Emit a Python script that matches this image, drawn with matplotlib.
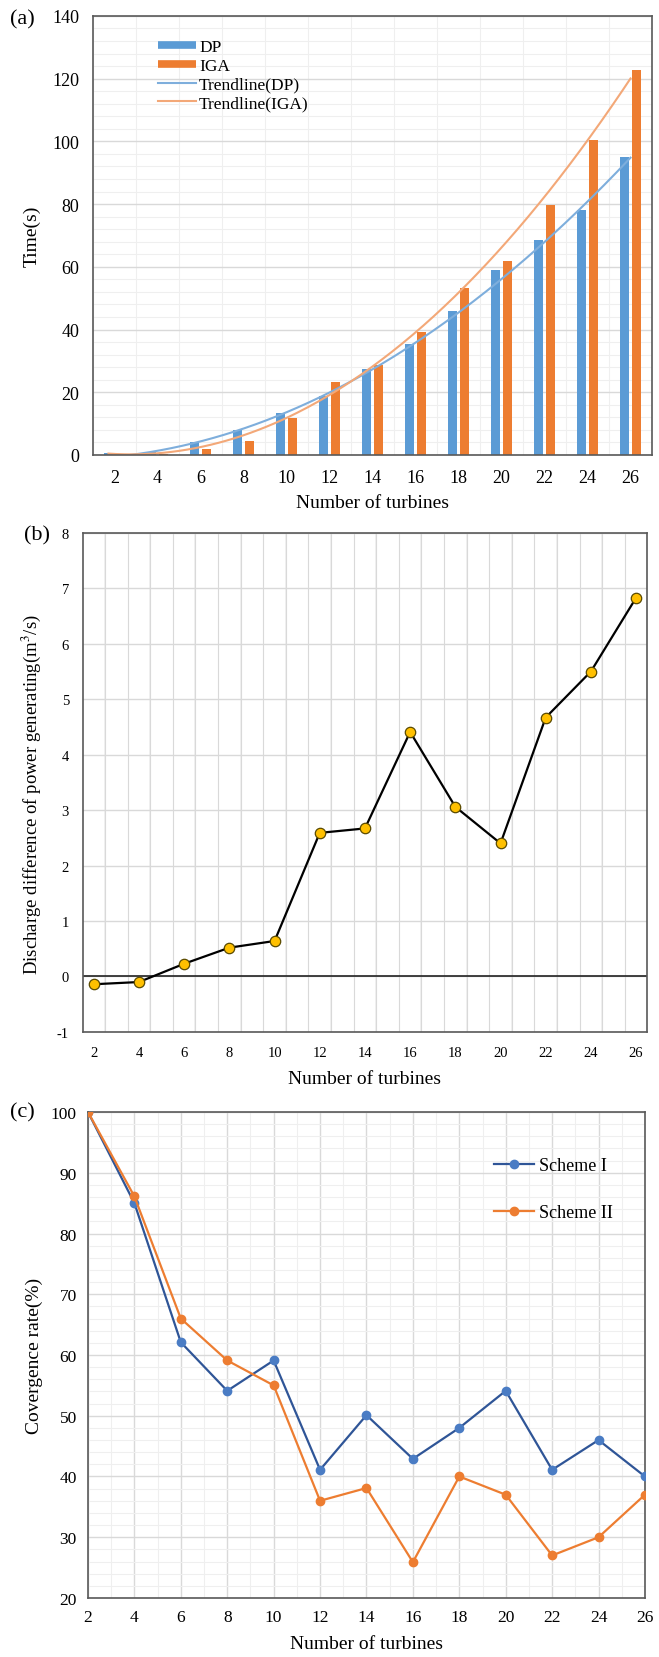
import numpy as np
import matplotlib
matplotlib.use("Agg")
import matplotlib.pyplot as plt
from matplotlib.lines import Line2D

plt.rcParams['font.family'] = ['Liberation Serif', 'DejaVu Serif']
plt.rcParams['mathtext.fontset'] = 'stix'
plt.rcParams['axes.unicode_minus'] = False

# ---- data ----
turbines = [2, 4, 6, 8, 10, 12, 14, 16, 18, 20, 22, 24, 26]

time_dp = [0.5, 0.9, 4.0, 8.1, 13.3, 18.9, 27.4, 35.4, 45.8, 59.0, 68.6, 78.1, 95.1]
time_iga = [0.3, 0.4, 1.9, 4.6, 11.9, 23.4, 28.8, 39.3, 53.1, 61.9, 79.6, 100.5, 122.7]

discharge_diff = [-0.14, -0.10, 0.23, 0.52, 0.64, 2.59, 2.67, 4.41, 3.06, 2.40, 4.67, 5.50, 6.83]

scheme1 = [100, 85.0, 62.1, 54.1, 59.1, 41.1, 50.1, 42.9, 48.0, 54.1, 41.1, 46.0, 40.0]
scheme2 = [100, 86.1, 66.0, 59.1, 55.0, 36.0, 38.1, 25.9, 40.0, 37.0, 27.0, 30.0, 37.0]

BLUE = '#5B9BD5'
ORANGE = '#ED7D31'
GRID_MAJ = '#D9D9D9'
GRID_MIN = '#EFEFEF'
SPINE = '#595959'

fig = plt.figure(figsize=(6.59, 16.58), dpi=100)


def style_spines(ax):
    for s in ax.spines.values():
        s.set_color(SPINE)
        s.set_linewidth(1.2)
    ax.tick_params(length=0)
    ax.set_axisbelow(True)


# ---- (a) computation time ----
ax1 = fig.add_axes([0.1411, 0.7250, 0.8483, 0.2648])
idx = np.arange(len(turbines))
w = 0.21
ax1.bar(idx - 0.14, time_dp, w, color=BLUE)
ax1.bar(idx + 0.14, time_iga, w, color=ORANGE)

# Excel-style polynomial trendlines
xs = np.linspace(idx[0] - 0.14, idx[-1], 200)
p_dp = np.polyfit(idx, time_dp, 2)
p_iga = np.polyfit(idx, time_iga, 2)
ax1.plot(xs, np.polyval(p_dp, xs), color='#7EAEDC', lw=1.5)
ax1.plot(xs, np.polyval(p_iga, xs), color='#F3A878', lw=1.5)

ax1.set_xlim(-0.5, len(turbines) - 0.5)
ax1.set_ylim(0, 140)
ax1.set_yticks(np.arange(0, 141, 20))
ax1.set_yticks(np.arange(0, 141, 4), minor=True)
ax1.set_xticks(idx)
ax1.set_xticklabels([str(t) for t in turbines])
ax1.set_xticks(np.arange(-0.5, len(turbines), 0.5), minor=True)
ax1.grid(axis='y', which='major', color=GRID_MAJ, lw=1.0)
ax1.grid(axis='y', which='minor', color=GRID_MIN, lw=0.8)
ax1.grid(axis='x', which='minor', color=GRID_MIN, lw=0.8)
ax1.tick_params(which='both', length=0, labelsize=13, pad=10)
style_spines(ax1)
ax1.set_xlabel('Number of turbines', fontsize=14, labelpad=6)
ax1.set_ylabel('Time(s)', fontsize=14, labelpad=8)

handles = [
    Line2D([], [], color=BLUE, lw=5.5, solid_capstyle='butt'),
    Line2D([], [], color=ORANGE, lw=5.5, solid_capstyle='butt'),
    Line2D([], [], color='#7EAEDC', lw=1.5),
    Line2D([], [], color='#F3A878', lw=1.5),
]
ax1.legend(handles, ['DP', 'IGA', 'Trendline(DP)', 'Trendline(IGA)'],
           loc='upper left', bbox_to_anchor=(0.095, 0.975), frameon=False,
           fontsize=12.5, handlelength=2.2, handletextpad=0.15, labelspacing=0.15,
           borderpad=0.2)
fig.text(0.015, 0.988, '(a)', fontsize=16, va='center')

# ---- (b) discharge difference ----
ax2 = fig.add_axes([0.1259, 0.3770, 0.8558, 0.3010])
ax2.plot(turbines, discharge_diff, color='black', lw=1.6, marker='o', ms=7.5,
         mfc='#FFC000', mec='#5A4A00', mew=0.9, zorder=3)
ax2.axhline(0, color='#222222', lw=1.2, zorder=2)
ax2.set_xlim(1.52, 26.48)
ax2.set_ylim(-1, 8)
ax2.set_xticks(turbines)
ax2.set_yticks(np.arange(-1, 9, 1))
ax2.set_xticks(np.arange(2.5, 26.5, 1.0), minor=True)
ax2.grid(axis='y', which='major', color=GRID_MAJ, lw=1.0)
ax2.grid(axis='x', which='minor', color=GRID_MAJ, lw=0.8)
for x in np.arange(2.5, 26.5, 2.0):
    ax2.axvline(x, color=GRID_MIN, lw=1.2, zorder=0.5)
ax2.tick_params(which='both', length=0, labelsize=10.5, pad=10)
style_spines(ax2)
ax2.set_xlabel('Number of turbines', fontsize=14, labelpad=8)
ax2.set_ylabel('Discharge difference of power generating(m$^3$/s)', fontsize=13.5, labelpad=10)
ax2.yaxis.label.set_y(0.478)
fig.text(0.056, 0.677, '(b)', fontsize=16, va='center', ha='center')

# ---- (c) convergence rate ----
ax3 = fig.add_axes([0.1335, 0.0356, 0.8452, 0.2931])
ax3.plot(turbines, scheme1, color='#2F5597', lw=1.6, marker='o', ms=6,
         mfc='#4A7CC4', mec='#4A7CC4', label='Scheme I', zorder=3)
ax3.plot(turbines, scheme2, color=ORANGE, lw=1.6, marker='o', ms=6,
         mfc=ORANGE, mec=ORANGE, label='Scheme II', zorder=3)
ax3.set_xlim(2, 26)
ax3.set_ylim(20, 100)
ax3.set_xticks(turbines)
ax3.set_xticks(np.arange(2, 27, 1), minor=True)
ax3.set_yticks(np.arange(20, 101, 10))
ax3.set_yticks(np.arange(20, 101, 2), minor=True)
ax3.grid(which='major', color=GRID_MAJ, lw=1.0)
ax3.grid(which='minor', color=GRID_MIN, lw=0.8)
ax3.tick_params(which='both', length=0, labelsize=12.5, pad=8)
style_spines(ax3)
ax3.set_xlabel('Number of turbines', fontsize=14, labelpad=7)
ax3.set_ylabel('Covergence rate(%)', fontsize=14, labelpad=6)
ax3.legend(loc='upper left', bbox_to_anchor=(0.70, 0.94), frameon=False,
           fontsize=13, handlelength=2.2, handletextpad=0.3, labelspacing=1.65)
fig.text(0.015, 0.3288, '(c)', fontsize=16, va='center')

fig.savefig('out.png', dpi=100)
